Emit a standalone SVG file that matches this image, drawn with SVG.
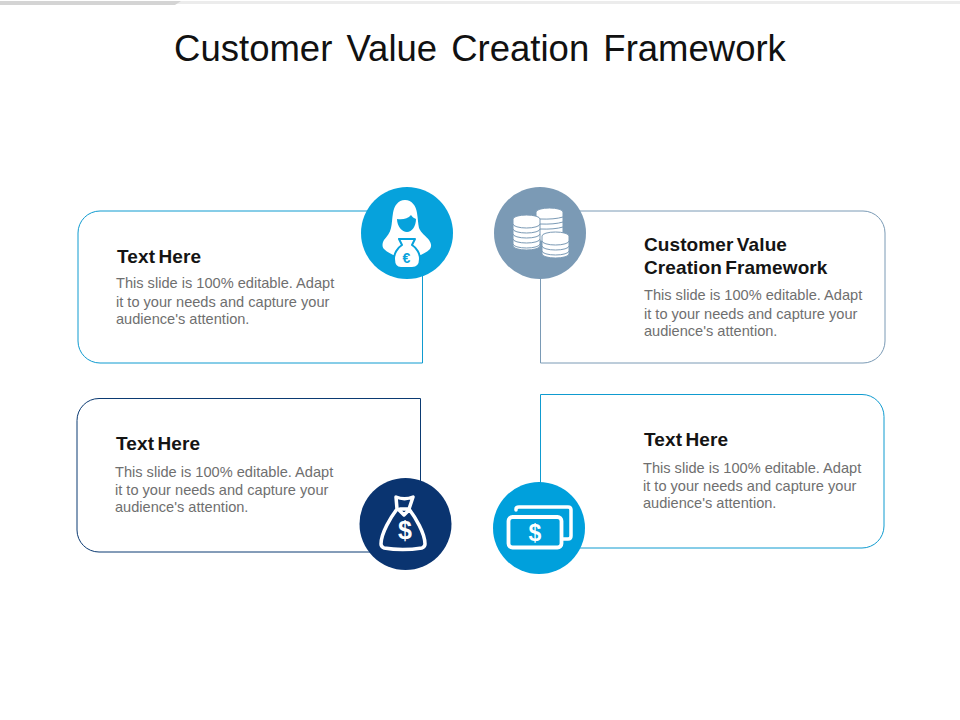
<svg xmlns="http://www.w3.org/2000/svg" width="960" height="720" viewBox="0 0 960 720">
<style>
text{font-family:"Liberation Sans",Arial,sans-serif}
.h{font-size:19px;font-weight:bold;fill:#141414;letter-spacing:.1px;word-spacing:-2px}
.b{font-size:14.600px;fill:#6f6f6f}
.w{fill:#fff}
.o{fill:none;stroke:#fff;stroke-linejoin:round;stroke-linecap:round}
.box{fill:none;stroke-width:1}
</style>
<rect width="960" height="720" fill="#fff"/>
<rect x="0" y="1" width="960" height="3" fill="#ececec"/>
<path d="M0 1H181L175 5H0Z" fill="#d4d4d4"/>
<text x="480" y="61" text-anchor="middle" font-size="36.500" fill="#111" style="word-spacing:4px">Customer Value Creation Framework</text>
<g id="connectors">
<path class="box" stroke="#0f9bd0" d="M407 211H100a22 22 0 0 0-22 22V341a22 22 0 0 0 22 22H422.500V233"/>
<path class="box" stroke="#7a9ab5" d="M540.500 233V363H863a22 22 0 0 0 22-22V233a22 22 0 0 0-22-22H540"/>
<path class="box" stroke="#0b3a72" d="M420.500 526V398.500H99a22 22 0 0 0-22 22V530a22 22 0 0 0 22 22H405"/>
<path class="box" stroke="#0f9bd0" d="M540.500 527V394.500H862a22 22 0 0 1 22 22V526a22 22 0 0 1-22 22H540"/>
</g>
<g id="node-tl">
<circle cx="407" cy="233" r="46" fill="#06a2dc"/>
<path class="w" d="M405 200c-7 0-11 6-12 13-1 6-1 11-2 15-1 5-4 8-7 12-2 3-2 7 0 9 4 4 10 7 17 8l12 0c7-1 13-4 17-8 2-3 1-6-1-9-3-4-8-7-10-12-1-4-1-9-2-15-1-7-5-13-12-13Z"/>
<path fill="#06a2dc" d="M397 219c5 1 11 0 14-4 1 2 3 3 5 4 0 7-4 13-9 13s-10-6-10-13Z"/>
<path class="w" stroke="#06a2dc" stroke-width="2" stroke-linejoin="round" d="M399 239h16l-3 6c5 3 8 9 8 14 0 6-3 9-8 9h-11c-5 0-7-3-7-9 0-5 3-11 8-14Z"/>
<text x="406.500" y="263" text-anchor="middle" font-size="14" font-weight="bold" fill="#06a2dc">€</text>
</g>
<g id="node-tr">
<circle cx="540" cy="233" r="46" fill="#7b9ab5"/>
<g class="w" stroke="#7b9ab5">
<path d="M536 212a13.500 4 0 0 1 27 0v26a13.500 4 0 0 1-27 0Z"/>
<path d="M513 219a13.500 4 0 0 1 27 0v27a13.500 4 0 0 1-27 0Z"/>
<path d="M542 236a13.500 4 0 0 1 27 0v18a13.500 4 0 0 1-27 0Z"/>
</g>
<path fill="none" stroke="#7b9ab5" d="M513 224a13.500 4 0 0 0 27 0M513 229a13.500 4 0 0 0 27 0M513 234a13.500 4 0 0 0 27 0M513 239a13.500 4 0 0 0 27 0M513 244a13.500 4 0 0 0 27 0M540 219a23 5 0 0 0 23-2M540 224a23 5 0 0 0 23-2M540 229a23 5 0 0 0 23-2M542 241a13.500 4 0 0 0 27 0M542 246a13.500 4 0 0 0 27 0M542 251a13.500 4 0 0 0 27 0"/>
</g>
<g id="node-bl">
<circle cx="405.500" cy="524" r="46" fill="#0a3470"/>
<path class="o" stroke-width="3.500" d="M396 497c5 2 12 2 17 0l-4 12c6 8 16 24 16 35 0 2-1 3-3 4-13 2-26 2-38 0-2-1-3-2-3-4 0-11 10-27 16-35Z M400 509h9M399 510l5 5 5-5"/>
<text x="405" y="539" text-anchor="middle" font-size="25" font-weight="bold" fill="#fff">$</text>
</g>
<g id="node-br">
<circle cx="539" cy="528" r="46" fill="#00a0dc"/>
<path class="o" stroke-width="3.500" d="M516 510v-1c0-1 1-2 3-2h49c2 0 3 1 3 3v26c0 2-1 3-3 3h-6"/>
<rect class="o" stroke-width="3.800" x="508.500" y="517" width="53" height="30.500" rx="4"/>
<text x="535" y="541" text-anchor="middle" font-size="23" font-weight="bold" fill="#fff">$</text>
</g>
<g id="text-tl">
<text class="h" x="117" y="263">Text Here</text>
<text class="b" x="116" y="288">This slide is 100% editable. Adapt</text>
<text class="b" x="116" y="307">it to your needs and capture your</text>
<text class="b" x="116" y="324">audience's attention.</text>
</g>
<g id="text-tr">
<text class="h" x="644" y="251">Customer Value</text>
<text class="h" x="644" y="274">Creation Framework</text>
<text class="b" x="644" y="300">This slide is 100% editable. Adapt</text>
<text class="b" x="644" y="319">it to your needs and capture your</text>
<text class="b" x="644" y="336">audience's attention.</text>
</g>
<g id="text-bl">
<text class="h" x="116" y="450">Text Here</text>
<text class="b" x="115" y="477">This slide is 100% editable. Adapt</text>
<text class="b" x="115" y="495">it to your needs and capture your</text>
<text class="b" x="115" y="512">audience's attention.</text>
</g>
<g id="text-br">
<text class="h" x="644" y="446">Text Here</text>
<text class="b" x="643" y="473">This slide is 100% editable. Adapt</text>
<text class="b" x="643" y="491">it to your needs and capture your</text>
<text class="b" x="643" y="508">audience's attention.</text>
</g>
</svg>
